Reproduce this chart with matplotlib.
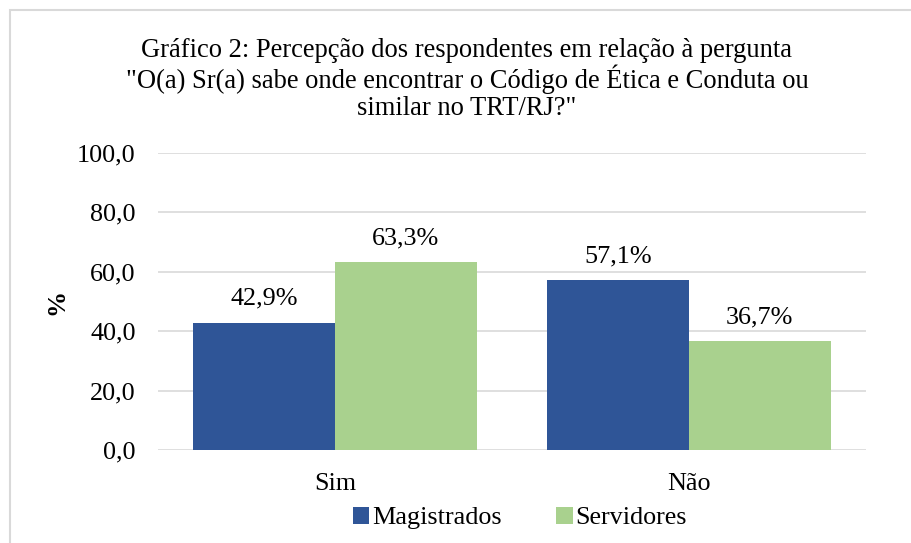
import matplotlib.pyplot as plt
import numpy as np
from matplotlib.patches import Rectangle

# Dados
categorias = ['Sim', 'Não']
magistrados = [42.9, 57.1]
servidores = [63.3, 36.7]
rotulos_y = ['0,0', '20,0', '40,0', '60,0', '80,0', '100,0']

azul = '#2F5597'
verde = '#A9D18E'
fs = 18.8

plt.rcParams['font.family'] = ['Liberation Serif', 'DejaVu Serif']

fig = plt.figure(figsize=(9.12, 5.43), dpi=100)
ax = fig.add_axes([0.1732, 0.1713, 0.7764, 0.5469])

# moldura do grafico
fig.patches.append(Rectangle((10 / 912, -0.1), 1.2, 1 - 10 / 543 + 0.1,
                             transform=fig.transFigure, fill=False,
                             edgecolor='#D9D9D9', linewidth=1.5))

x = np.arange(len(categorias))
w = 0.4
b1 = ax.bar(x - w / 2, magistrados, w, color=azul, label='Magistrados', zorder=3)
b2 = ax.bar(x + w / 2, servidores, w, color=verde, label='Servidores', zorder=3)

for barras in (b1, b2):
    for r in barras:
        v = r.get_height()
        ax.text(r.get_x() + r.get_width() / 2, v + 4.3,
                f'{v:.1f}%'.replace('.', ','), ha='center', va='bottom', fontsize=fs)

ax.set_xlim(-0.5, 1.5)
ax.set_ylim(0, 100)
ax.set_yticks(np.arange(0, 101, 20))
ax.set_yticklabels(rotulos_y, fontsize=fs)
ax.set_xticks(x)
ax.set_xticklabels(categorias, fontsize=fs)
ax.tick_params(axis='both', length=0)
ax.tick_params(axis='y', pad=16)
ax.tick_params(axis='x', pad=16.5)
ax.grid(axis='y', color='#D9D9D9', linewidth=1.2, zorder=0)
for s in ax.spines.values():
    s.set_visible(False)

ax.set_ylabel('%', fontsize=fs, fontweight='bold')
ax.yaxis.set_label_coords(-0.127, 0.5)

fig.text(0.512, 0.854,
         'Gráfico 2: Percepção dos respondentes em relação à pergunta\n'
         '"O(a) Sr(a) sabe onde encontrar o Código de Ética e Conduta ou\n'
         'similar no TRT/RJ?"',
         ha='center', va='center', fontsize=19.1, linespacing=1.07)

fig.legend(loc='center', bbox_to_anchor=(0.570, 0.046), ncol=2, frameon=False,
           fontsize=fs, handlelength=0.62, handleheight=0.62, handletextpad=0.1,
           columnspacing=2.1)

fig.savefig('out.png', dpi=100)
